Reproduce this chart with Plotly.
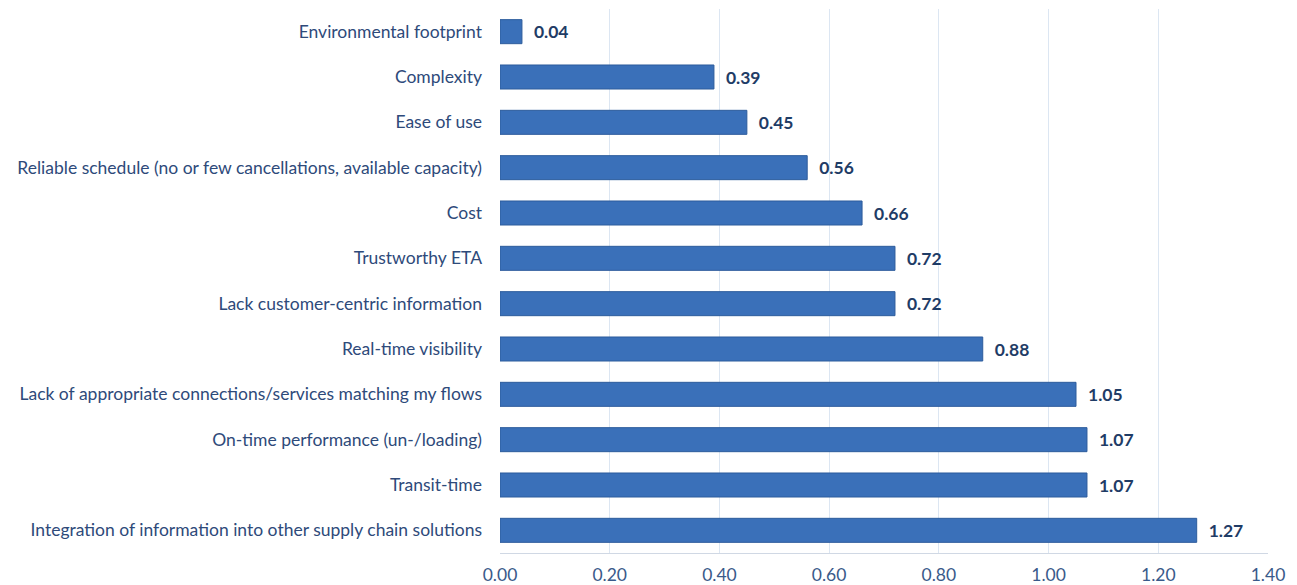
import plotly.graph_objects as go

categories = [
    "Integration of information into other supply chain solutions",
    "Transit-time",
    "On-time performance (un-/loading)",
    "Lack of appropriate connections/services matching my flows",
    "Real-time visibility",
    "Lack customer-centric information",
    "Trustworthy ETA",
    "Cost",
    "Reliable schedule (no or few cancellations, available capacity)",
    "Ease of use",
    "Complexity",
    "Environmental footprint",
]
values = [1.27, 1.07, 1.07, 1.05, 0.88, 0.72, 0.72, 0.66, 0.56, 0.45, 0.39, 0.04]
x_ticks = [0.0, 0.2, 0.4, 0.6, 0.8, 1.0, 1.2, 1.4]

fig = go.Figure(go.Bar(
    y=categories,
    x=values,
    orientation="h",
    marker=dict(color="#3A70B9", line=dict(color="#2D5C9C", width=1)),
    text=[f"\u00a0\u00a0<b>{v:.2f}</b>" for v in values],
    textposition="outside",
    textfont=dict(family="Lato, Carlito, sans-serif", size=17.5, color="#1F3C66"),
    cliponaxis=False,
    width=0.53,
))

fig.update_layout(
    width=1289, height=577,
    margin=dict(l=492, r=29, t=1, b=32, autoexpand=False),
    plot_bgcolor="white", paper_bgcolor="white",
    showlegend=False,
    font=dict(family="Lato, Carlito, sans-serif", size=17.5, color="#2E4A7A"),
)
fig.update_xaxes(
    range=[0, 1.4], tickvals=x_ticks, ticktext=[f"{t:.2f}" for t in x_ticks],
    showgrid=True, gridcolor="#DCE6F2", gridwidth=1, zeroline=False,
    showline=True, linecolor="#D0D8E4", ticks="", ticklabelstandoff=6,
    automargin=False,
    tickfont=dict(size=17.5, color="#3A5A8A"),
)
fig.update_yaxes(
    categoryorder="array", categoryarray=categories,
    showgrid=False, ticks="", ticklabelstandoff=17, automargin=False,
    tickfont=dict(size=17.5, color="#2E4A7A"),
)

fig.write_html("out.html")
